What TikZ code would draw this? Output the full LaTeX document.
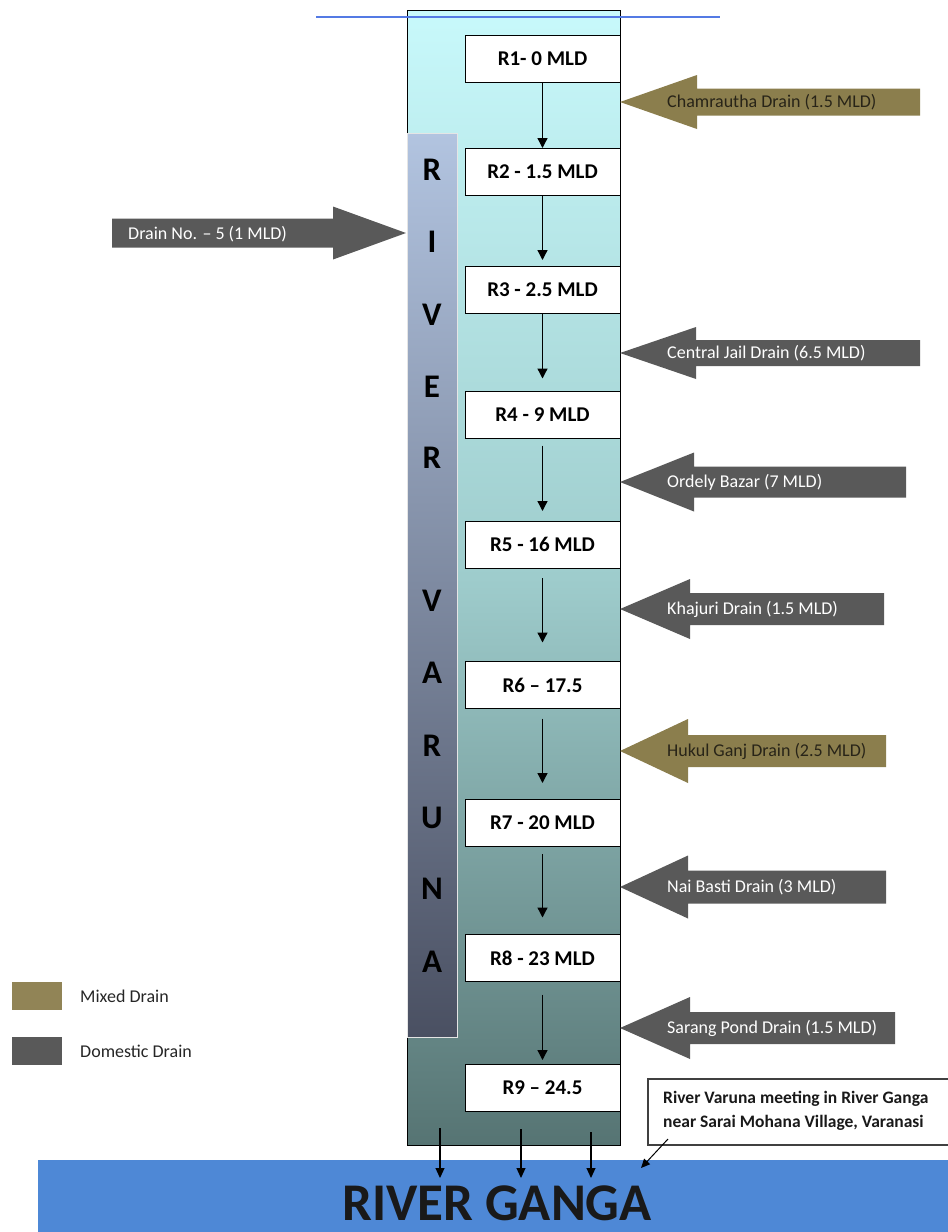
\documentclass[tikz,border=0pt]{standalone}
\usepackage{fontspec}
\usepackage{graphicx}
\setmainfont{Carlito}
\usetikzlibrary{arrows.meta}
\definecolor{drainolive}{RGB}{139,126,77}
\definecolor{draingray}{RGB}{89,89,89}
\definecolor{olivetext}{RGB}{40,36,24}
\definecolor{gangablue}{RGB}{78,136,214}
\definecolor{linebl}{RGB}{84,122,228}
\definecolor{coltop}{RGB}{200,249,251}
\definecolor{colmid}{RGB}{158,204,204}
\definecolor{colbot}{RGB}{86,116,115}
\definecolor{bartop}{RGB}{178,196,224}
\definecolor{barbot}{RGB}{74,80,98}
\newcommand\drainL[6]{\fill[#5] (620,#1) -- (#6,#1-#3) -- (#6,#1-#4) -- (#2,#1-#4) -- (#2,#1+#4) -- (#6,#1+#4) -- (#6,#1+#3) -- cycle;}
\begin{document}
\begin{tikzpicture}[x=1pt,y=-1pt,
  rbox/.style={draw=black, line width=1pt, fill=white, minimum width=155pt, minimum height=47pt, inner sep=0pt, outer sep=0pt, font=\fontsize{21}{24}\selectfont\bfseries},
  flow/.style={-{Triangle[width=10pt,length=10pt]}, line width=1.3pt},
  dtext/.style={anchor=west, inner sep=0pt, font=\fontsize{18}{20}\selectfont},
  letter/.style={inner sep=0pt, font=\fontsize{33}{36}\selectfont\bfseries},
  swatch/.style={minimum width=50pt, minimum height=28pt, inner sep=0pt},
  ltext/.style={anchor=west, inner sep=0pt, font=\fontsize{18}{20}\selectfont, text=black!85}
]
\useasboundingbox (0,0) rectangle (948,1232);
% Varuna column
\path[draw=black, line width=1pt, top color=coltop, bottom color=colbot, middle color=colmid] (407,10) rectangle (620,1145);
% River Varuna bar
\path[draw=white!80!gray, line width=0.6pt, top color=bartop, bottom color=barbot] (407,133) rectangle (457,1037);
\foreach \l/\yy [count=\i] in {R/170,I/242,V/315,E/387,R/458,V/601,A/673,R/746,U/818,N/889,A/962}
  \node[letter] (v\i) at (432,\yy) {\l};
% blue line
\draw[linebl, line width=2pt] (316,17) -- (720,17);
% reach boxes
\node[rbox] (r1) at (542.5,58.5) {R1- 0 MLD};
\node[rbox] (r2) at (542.5,171.5) {R2 - 1.5 MLD};
\node[rbox] (r3) at (542.5,289.5) {R3 - 2.5 MLD};
\node[rbox] (r4) at (542.5,415) {R4 - 9 MLD};
\node[rbox] (r5) at (542.5,544.5) {R5 - 16 MLD};
\node[rbox] (r6) at (542.5,685) {R6 -- 17.5};
\node[rbox] (r7) at (542.5,822.5) {R7 - 20 MLD};
\node[rbox] (r8) at (542.5,958) {R8 - 23 MLD};
\node[rbox] (r9) at (542.5,1087.5) {R9 -- 24.5};
\draw[flow] (r1) -- (r2);
\draw[flow, shorten >=6pt] (r2) -- (r3);
\draw[flow, shorten >=13pt] (r3) -- (r4);
\draw[flow, shorten <=7pt, shorten >=10pt] (r4) -- (r5);
\draw[flow, shorten <=10pt, shorten >=19pt] (r5) -- (r6);
\draw[flow, shorten <=10pt, shorten >=16pt] (r6) -- (r7);
\draw[flow, shorten <=8pt, shorten >=17pt] (r7) -- (r8);
\draw[flow, shorten <=13pt, shorten >=4pt] (r8) -- (r9);
% drains from the right
\drainL{102}{920}{27}{13.5}{drainolive}{697}
\drainL{353}{920}{26}{13}{draingray}{696}
\drainL{482}{906}{29.5}{15.5}{draingray}{694}
\drainL{609}{884}{30}{16}{draingray}{690}
\drainL{751}{886}{32}{16}{drainolive}{688}
\drainL{887}{886}{31.5}{16.5}{draingray}{688}
\drainL{1028}{895}{31}{16}{draingray}{690}
\node[dtext, text=olivetext] (d1) at (667,102) {Chamrautha Drain (1.5 MLD)};
\node[dtext, text=white] (d2) at (667,353) {Central Jail Drain (6.5 MLD)};
\node[dtext, text=white] (d3) at (667,482) {Ordely Bazar (7 MLD)};
\node[dtext, text=white] (d4) at (667,609) {Khajuri Drain (1.5 MLD)};
\node[dtext, text=olivetext] (d5) at (667,751) {Hukul Ganj Drain (2.5 MLD)};
\node[dtext, text=white] (d6) at (667,887) {Nai Basti Drain (3 MLD)};
\node[dtext, text=white] (d7) at (667,1028) {Sarang Pond Drain (1.5 MLD)};
% drain from the left
\fill[draingray] (406,233) -- (333,206.5) -- (333,218.5) -- (112,218.5) -- (112,247.5) -- (333,247.5) -- (333,259.5) -- cycle;
\node[dtext, text=white] (d8) at (128,234) {Drain No. -- 5 (1 MLD)};
% legend
\node[swatch, fill=drainolive!95!white] (lm) at (37,996) {};
\node[swatch, fill=draingray] (ld) at (37,1051) {};
\node[ltext] (lmt) at (80,996) {Mixed Drain};
\node[ltext] (ldt) at (80,1051) {Domestic Drain};
% River Ganga
\fill[gangablue] (38,1160) rectangle (948,1232);
\node[inner sep=0pt, font=\fontsize{53}{56}\selectfont\bfseries, text=black!90] (ganga) at (497,1203) {RIVER GANGA};
% outflow arrows
\coordinate (o1s) at (440,1128); \coordinate (o1e) at (440,1178);
\coordinate (o2s) at (521,1129); \coordinate (o2e) at (521,1178);
\coordinate (o3s) at (591,1132); \coordinate (o3e) at (591,1178);
\draw[flow, line width=1.1pt, -{Triangle[width=9pt,length=10pt]}] (o1s) -- (o1e);
\draw[flow, line width=1.1pt, -{Triangle[width=9pt,length=10pt]}] (o2s) -- (o2e);
\draw[flow, line width=1.1pt, -{Triangle[width=9pt,length=10pt]}] (o3s) -- (o3e);
% callout
\draw[draw=black!75, line width=1.5pt, fill=white] (648,1079) rectangle (960,1145);
\node[anchor=west, inner sep=0pt, align=left, font=\fontsize{17.5}{24}\selectfont\bfseries, text=black!90] (call) at (663,1111) {River Varuna meeting in River Ganga\\near Sarai Mohana Village, Varanasi};
\coordinate (cp1) at (668,1139);
\coordinate (cp2) at (641,1168);
\draw[line width=1pt, -{Triangle[width=8pt,length=9pt]}] (cp1) -- (cp2);
\end{tikzpicture}
\end{document}
